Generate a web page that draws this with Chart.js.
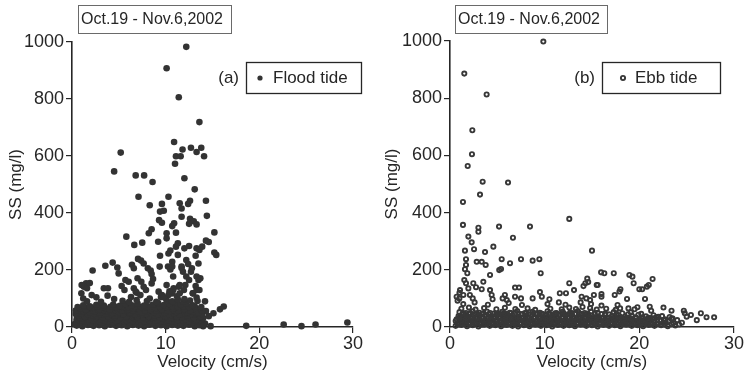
<!DOCTYPE html>
<html>
<head>
<meta charset="utf-8">
<script src="https://cdn.jsdelivr.net/npm/chart.js@4.4.1/dist/chart.umd.min.js"></script>
<style>
  html, body { margin: 0; padding: 0; background: #fff; }
  #wrap { position: relative; width: 752px; height: 380px; }
  canvas { position: absolute; top: 0; }
</style>
</head>
<body>
<div id="wrap">
  <canvas id="floodChart" width="376" height="380" style="left:0"></canvas>
  <canvas id="ebbChart" width="376" height="380" style="left:376px"></canvas>
</div>
<script>
// SS vs velocity, Oct.19 - Nov.6, 2002

const xTicks = [0, 10, 20, 30];
const yTicks = [0, 200, 400, 600, 800, 1000];

// (a) flood tide: [velocity cm/s, SS mg/l]
const floodHigh = [
  [12.2,983],[10.1,908],[11.4,806],[13.6,719],[10.9,649],[5.2,612],[11.8,623],[12.7,629],
  [13.8,629],[13.3,614],[14.1,599],[11.1,599],[11.6,599],[11.0,573],[4.5,546],[6.8,532],
  [7.7,532],[8.6,509],[12.0,522]
];
const floodMid = [
  [7.1,457],[10.3,457],[13.1,483],[8.3,427],[9.6,432],[9.4,405],[9.8,408],[11.5,434],[11.7,416],
  [12.6,443],[12.4,432],[14.3,443],[11.7,387],[12.6,380],[13.0,371],[12.5,362],[13.3,360],
  [9.3,375],[9.6,366],[10.9,364],[10.7,354],[14.4,390],[8.5,343],[8.2,329],[10.1,329],[11.1,331],
  [15.2,332],[5.8,317],[7.5,296],[6.65,288],[9.2,299],[10.1,311],[11.3,294],[11.1,282],[12.5,284],
  [12.0,276],[13.3,276],[14.3,303],[14.6,298],[13.9,282],[13.6,270],[15.4,253],[15.2,261],
  [7.05,239],[7.37,233],[7.65,223],[6.4,218],[6.6,206],[8.1,206],[8.4,198],[8.5,186],[8.65,168],
  [8.5,153],[9.4,250],[10.3,258],[10.5,268],[11.3,253],[10.7,229],[12.2,235],[12.4,221],[13.2,250],
  [13.5,223],[9.36,212],[10.25,212],[10.5,202],[10.7,212],[11.7,207],[11.85,194],[12.7,194],
  [4.34,226],[3.56,215],[4.84,209],[4.98,188],[2.2,198],[7.0,171],[7.4,159],[5.7,165],[6.05,159],
  [1.5,153],[1.28,141],[1.6,136],[3.4,136],[3.84,136],[5.3,144],[5.6,130],[7.9,130],[7.65,141],
  [6.6,136],[6.8,124],[9.25,124],[9.6,112],[10.85,136],[11.4,141],[10.7,118],[12.1,147],[11.95,130],
  [13.5,165],[13.2,144],[13.6,130],[12.5,165],[2.1,112],[1.0,118],[1.03,147],[1.9,154],
  [10.1,147],[10.8,177],[11.7,212],[12.2,177],[12.8,206],[13.3,177],[13.7,171],[13.3,130],
  [12.9,118],[10.8,130],[10.3,112],[11.5,147],[9.5,105]
];
const floodBlob = [
  [0.5,5],[1.1,3],[1.7,7],[2.3,4],[2.9,6],[3.5,3],[4.1,8],[4.7,4],[5.3,6],[5.9,3],[6.5,7],[7.1,5],
  [7.7,3],[8.3,8],[8.9,4],[9.5,6],[10.1,3],[10.7,7],[11.3,5],[11.9,4],[12.5,8],[13.1,3],[13.6,6],
  [0.3,10],[0.9,9],[1.4,11],[2.0,8],[2.6,12],[3.2,9],[3.8,11],[4.4,10],[5.0,8],[5.6,12],[6.2,9],
  [6.8,11],[7.4,10],[8.0,8],[8.6,12],[9.2,10],[9.8,9],[10.4,11],[11.0,10],[11.6,8],[12.2,12],
  [12.8,10],[13.4,9],[14.0,11],
  [0.8,16],[1.4,19],[2.0,14],[2.6,18],[3.2,15],[3.8,20],[4.4,16],[5.0,13],[5.6,19],[6.2,15],[6.8,18],
  [7.4,14],[8.0,20],[8.6,16],[9.2,13],[9.8,19],[10.4,15],[11.0,18],[11.6,14],[12.2,20],[12.8,16],
  [13.4,19],[14.2,12],
  [0.5,22],[1.1,24],[1.7,21],[2.3,23],[2.9,20],[3.5,24],[4.1,22],[4.7,21],[5.3,24],[5.9,22],[6.5,20],
  [7.1,23],[7.7,21],[8.3,24],[8.9,22],[9.5,20],[10.1,23],[10.7,21],[11.3,24],[11.9,22],[12.5,20],
  [13.1,23],[13.8,22],
  [0.5,28],[1.1,31],[1.8,26],[2.4,30],[3.0,27],[3.6,32],[4.2,28],[4.9,25],[5.5,30],[6.1,27],[6.7,31],
  [7.3,26],[7.9,29],[8.5,32],[9.1,27],[9.7,30],[10.3,25],[10.9,29],[11.5,33],[12.1,27],[12.7,30],
  [13.3,26],[14.0,31],
  [0.8,34],[1.4,35],[2.0,33],[2.7,35],[3.3,34],[4.0,33],[4.6,35],[5.2,34],[5.8,33],[6.4,35],[7.0,34],
  [7.6,33],[8.2,35],[8.8,34],[9.4,33],[10.0,35],[10.6,34],[11.2,33],[11.8,35],[12.4,34],[13.0,33],
  [13.6,35],
  [0.7,40],[1.4,37],[2.1,42],[2.7,39],[3.3,43],[3.9,38],[4.6,41],[5.2,44],[5.8,37],[6.4,42],[7.0,39],
  [7.6,43],[8.2,38],[8.8,41],[9.4,45],[10.0,39],[10.6,42],[11.2,37],[11.8,44],[12.4,40],[13.0,43],
  [13.7,38],
  [0.4,46],[1.0,47],[1.7,45],[2.4,47],[3.0,46],[3.6,48],[4.2,45],[4.9,47],[5.5,46],[6.1,48],[6.7,45],
  [7.3,47],[7.9,46],[8.5,48],[9.1,45],[9.7,47],[10.3,46],[10.9,48],[11.5,45],[12.1,47],[12.7,46],
  [13.3,48],[13.9,45],
  [0.6,52],[1.2,55],[1.9,50],[2.5,54],[3.1,51],[3.7,56],[4.3,49],[5.0,53],[5.6,57],[6.2,50],[6.9,54],
  [7.5,51],[8.1,55],[8.7,52],[9.3,58],[9.9,50],[10.5,55],[11.1,53],[11.7,57],[12.3,51],[12.9,54],
  [13.5,50],[14.3,56],
  [0.4,58],[1.5,60],[2.2,57],[2.8,59],[3.4,60],[4.0,58],[4.6,60],[5.3,58],[5.9,60],[6.5,58],[7.2,60],
  [7.8,58],[8.4,60],[9.0,58],[9.6,60],[10.2,58],[10.8,60],[11.4,58],[12.0,60],[12.6,58],[13.3,60],
  [13.9,58],
  [0.9,64],[1.5,61],[2.2,66],[2.9,63],[3.5,67],[4.0,62],[4.8,65],[5.4,68],[6.0,62],[6.6,66],[7.2,63],
  [7.9,69],[8.4,64],[9.0,67],[9.6,62],[10.2,70],[10.8,65],[11.4,68],[12.0,63],[12.6,71],[13.2,66],
  [0.6,70],[1.3,71],[2.0,69],[2.7,72],[3.3,70],[4.1,71],[4.7,70],[5.3,72],[6.0,70],[6.7,72],[7.4,70],
  [8.1,72],[8.8,70],[9.4,72],[10.0,70],[10.7,73],[11.3,71],[11.9,73],[12.5,70],[13.1,72],[13.8,70],
  [1.2,76],[1.9,73],[2.6,78],[3.4,75],[4.4,79],[5.1,74],[5.7,80],[6.4,76],[7.0,82],[7.7,75],[8.6,78],
  [9.2,84],[9.8,77],[10.4,81],[11.0,86],[11.6,79],[12.2,83],[12.9,76],
  [1.6,90],[3.1,88],[5.4,92],[6.1,88],[6.9,95],[8.0,91],[9.0,88],[10.1,94],[10.7,90],[11.3,97],
  [11.9,89],[12.6,93],[13.4,91],
  [1.2,100],[2.6,104],[3.8,110],[4.5,98],[6.3,105],[6.9,120],[7.3,112],[8.3,100],[9.8,104],
  [10.4,125],[11.2,108],[11.5,118],[12.0,98],[12.9,118],[13.3,103],[14.2,90]
];
const floodTail = [
  [14.0,3],[14.8,3],[14.6,38],[15.1,48],[15.8,62],[16.2,72],
  [18.6,4],[22.6,9],[24.5,3],[26.0,9],[29.4,16]
];

// (b) ebb tide: [velocity cm/s, SS mg/l]
const ebbHigh = [
  [9.86,998],[1.51,886],[3.87,813],[2.36,688],[2.32,604],[1.87,563],[3.45,508],[6.13,505],
  [3.17,463],[1.37,437]
];
const ebbMid = [
  [1.37,357],[3.0,347],[3.0,333],[5.18,351],[8.45,351],[12.6,378],[1.94,316],[2.29,296],[6.65,312],
  [1.58,267],[2.54,272],[3.7,262],[4.58,281],[15.0,267],
  [1.69,237],[1.69,217],[1.58,202],[1.83,188],[2.82,228],[3.35,228],[3.77,217],[5.46,237],[7.5,237],
  [8.73,232],[9.44,237],[6.34,223],[5.2,199],[5.39,203],[4.23,182],[9.58,188],
  [1.51,164],[1.69,153],[1.94,135],[2.46,153],[2.75,139],[3.52,158],[1.06,129],[1.41,112],[0.7,106],
  [0.99,100],[2.1,112],[2.4,100],[3.35,132],[4.23,129],[4.4,112],[4.5,97],[6.87,138],[7.29,138],
  [9.5,122],[9.7,106],[10.5,97],[6.87,106],[7.5,100],[5.8,112],[5.56,100],[6.0,94],[8.73,100],
  [11.6,118],[12.25,118],[12.6,153],[13.1,129],[11.5,86],[14.1,143],[14.3,153],[14.5,169],[14.6,157],
  [15.5,147],[13.9,106],[14.4,100],[14.8,94],[15.2,112],
  [15.96,191],[16.3,188],[17.3,188],[15.6,147],[18.95,182],[19.27,176],[19.4,153],[21.4,168],
  [21.0,147],[20.8,141],[20.0,132],[20.3,132],[18.0,132],[17.9,124],[16.0,115],[16.0,106],[17.4,112],
  [18.7,98],[20.6,98]
];
const ebbBlob = [
  [0.6,4],[1.2,7],[1.8,3],[2.4,6],[3.0,2],[3.6,8],[4.2,4],[4.8,6],[5.4,3],[6.0,7],[6.6,4],[7.2,2],
  [7.8,6],[8.4,3],[9.0,8],[9.6,4],[10.2,6],[10.8,2],[11.4,7],[12.0,4],[12.6,6],[13.2,3],[13.8,8],
  [14.4,4],[15.0,6],[15.6,2],[16.2,7],[16.8,4],[17.4,6],[18.0,3],[18.6,8],[19.2,4],[19.8,6],[20.4,3],
  [21.0,7],[21.6,4],[22.3,6],[23.0,3],[23.8,5],
  [0.9,9],[1.5,10],[2.1,9],[2.7,11],[3.3,8],[3.9,10],[4.5,9],[5.1,11],[5.7,8],[6.3,10],[6.9,9],
  [7.5,11],[8.1,8],[8.7,10],[9.3,9],[9.9,11],[10.5,8],[11.1,10],[11.7,9],[12.3,11],[12.9,8],[13.5,10],
  [14.1,9],[14.7,11],[15.3,8],[15.9,10],[16.5,9],[17.1,11],[17.7,8],[18.3,10],[18.9,9],[19.5,11],
  [20.1,8],[20.7,10],[21.3,9],[22.0,11],[22.7,8],[23.4,10],[24.2,9],
  [0.75,12],[1.35,12],[1.95,11],[2.55,13],[3.15,12],[3.75,11],[4.35,13],[4.95,12],[5.55,11],[6.15,13],
  [6.75,12],[7.35,11],[7.95,13],[8.55,12],[9.15,11],[9.75,13],[10.35,12],[10.95,11],[11.55,13],
  [12.15,12],[12.75,11],[13.35,13],[13.95,12],[14.55,11],[15.15,13],[15.75,12],[16.35,11],[16.95,13],
  [17.55,12],[18.15,11],[18.75,13],[19.35,12],[19.95,11],[20.55,13],[21.15,12],[21.8,11],[22.5,13],
  [0.9,15],[1.5,18],[2.1,13],[2.7,17],[3.3,14],[3.9,19],[4.5,15],[5.1,12],[5.7,18],[6.3,14],[6.9,17],
  [7.5,13],[8.1,19],[8.7,15],[9.3,12],[9.9,18],[10.5,14],[11.1,17],[11.7,13],[12.3,19],[12.9,15],
  [13.5,12],[14.1,18],[14.7,14],[15.3,17],[15.9,13],[16.5,19],[17.1,15],[17.7,12],[18.3,18],[18.9,14],
  [19.5,17],[20.1,13],[20.7,19],[21.3,15],[22.0,12],[22.8,16],[23.6,13],[24.5,15],
  [0.6,21],[1.2,22],[1.8,20],[2.4,22],[3.0,21],[3.6,20],[4.2,22],[4.8,21],[5.4,20],[6.0,22],[6.6,21],
  [7.2,20],[7.8,22],[8.4,21],[9.0,20],[9.6,22],[10.2,21],[10.8,20],[11.4,22],[12.0,21],[12.6,20],
  [13.2,22],[13.8,21],[14.4,20],[15.0,22],[15.6,21],[16.2,20],[16.8,22],[17.4,21],[18.0,20],[18.6,22],
  [19.2,21],[19.8,20],[20.4,22],[21.0,21],[21.6,20],[22.3,22],[23.1,20],
  [0.7,27],[1.3,24],[1.9,29],[2.5,26],[3.1,31],[3.7,25],[4.3,28],[5.0,24],[5.6,30],[6.2,26],[6.8,29],
  [7.4,25],[8.0,31],[8.6,27],[9.2,24],[9.8,29],[10.4,26],[11.0,31],[11.6,25],[12.2,28],[12.8,24],
  [13.4,30],[14.0,26],[14.6,29],[15.2,25],[15.8,31],[16.4,27],[17.0,24],[17.6,29],[18.2,26],[18.8,30],
  [19.4,24],[20.0,28],[20.6,25],[21.2,30],[21.9,26],[22.6,24],[23.4,29],
  [1.05,30],[1.65,31],[2.25,29],[2.85,30],[3.45,31],[4.05,29],[4.65,30],[5.25,31],[5.85,29],[6.45,30],
  [7.05,31],[7.65,29],[8.25,30],[8.85,31],[9.45,29],[10.05,30],[10.65,31],[11.25,29],[11.85,30],
  [12.45,31],[13.05,29],[13.65,30],[14.25,31],[14.85,29],[15.45,30],[16.05,31],[16.65,29],[17.25,30],
  [17.85,31],[18.45,29],[19.05,30],[19.65,31],[20.25,29],[20.9,30],
  [1.0,33],[1.6,34],[2.2,32],[2.8,34],[3.4,33],[4.0,32],[4.6,34],[5.3,33],[5.9,32],[6.5,34],[7.1,33],
  [7.7,32],[8.3,34],[8.9,33],[9.5,32],[10.1,34],[10.7,33],[11.3,32],[11.9,34],[12.5,33],[13.1,32],
  [13.7,34],[14.3,33],[14.9,32],[15.5,34],[16.1,33],[16.7,32],[17.4,34],[18.0,33],[18.7,32],[19.6,34],
  [20.3,33],[21.0,32],[21.8,34],
  [0.9,38],[1.6,41],[2.3,36],[3.0,42],[3.7,39],[4.4,37],[5.2,43],[5.9,38],[6.6,41],[7.3,36],[8.0,40],
  [8.7,43],[9.4,37],[10.1,41],[10.8,38],[11.5,44],[12.2,39],[12.9,42],[13.6,37],[14.3,43],[15.0,40],
  [15.7,36],[16.4,42],[17.1,38],[17.8,41],[18.5,36],[19.2,40],[19.9,43],[20.7,37],[21.5,41],[22.4,38],
  [23.2,35],
  [1.3,45],[2.0,46],[2.7,44],[3.4,46],[4.1,45],[4.9,44],[5.6,46],[6.0,44],[6.8,46],[7.6,45],[8.3,44],
  [9.1,46],[9.8,45],[10.6,44],[11.3,46],[12.0,45],[12.6,44],[13.2,46],[13.9,45],[14.6,44],[15.3,46],
  [16.0,45],[16.8,44],[17.6,46],[18.8,44],
  [1.45,48],[2.15,49],[2.85,47],[3.55,48],[4.25,49],[5.0,47],[5.75,48],[6.45,49],[7.25,47],[8.05,48],
  [8.85,49],[9.65,47],[10.45,48],[11.25,49],[12.05,47],[12.85,48],[13.65,49],[14.45,47],
  [1.0,52],[1.7,49],[2.4,55],[3.1,50],[3.9,54],[4.7,48],[5.5,53],[6.3,50],[7.1,56],[7.9,49],[8.7,53],
  [9.5,50],[10.3,55],[11.1,48],[11.9,54],[12.7,51],[13.5,56],[14.2,49],[14.9,54],[15.6,50],[16.4,47],
  [17.3,52],[18.2,48],[19.1,51],[20.2,46],
  [1.2,64],[2.0,68],[2.7,61],[3.6,66],[4.9,62],[5.8,67],[6.9,63],[8.2,65],[9.0,60],[10.6,64],[11.8,62],
  [12.6,68],[13.3,63],[14.0,70],[14.8,66],[15.5,61],[16.5,64],[17.5,60],[19.5,62],
  [1.4,80],[2.6,86],[4.0,78],[6.2,84],[7.6,77],[10.3,80],[12.2,78],[13.8,86],[14.9,80],[16.0,75],
  [0.8,92],[1.0,120]
];
const ebbTail = [
  [17.7,77],[17.97,65],[18.85,65],[19.8,69],[21.1,71],[21.25,57],[22.55,68],[23.4,57],[24.7,57],
  [24.8,48],[25.0,36],[25.45,42],[26.07,24],[26.5,48],[27.1,34],[27.9,34],[24.0,24],[23.5,30],
  [22.7,27],[22.0,36],[21.5,30]
];

const ink = '#262626';
const fontFamily = '"Liberation Sans", Arial, Helvetica, sans-serif';
Chart.defaults.font.family = fontFamily;
Chart.defaults.color = ink;

function toXY(rows) {
  return rows.map(r => ({ x: r[0], y: r[1] }));
}

// draws the date box, the (a)/(b) tag and the boxed legend
const panelDecor = {
  id: 'panelDecor',
  afterDraw(chart, args, o) {
    const ctx = chart.ctx;
    ctx.save();
    ctx.textBaseline = 'middle';
    ctx.fillStyle = ink;

    // date box
    ctx.strokeStyle = '#6a6a6a';
    ctx.lineWidth = 1;
    ctx.strokeRect(o.dateBox[0] + 0.5, o.dateBox[1] + 0.5, o.dateBox[2], o.dateBox[3]);
    ctx.font = '16px ' + fontFamily;
    ctx.textAlign = 'left';
    ctx.fillText(o.dateText, o.dateBox[0] + 3, o.dateBox[1] + o.dateBox[3] / 2 + 1);

    // legend box
    const lb = o.legendBox;
    ctx.strokeStyle = ink;
    ctx.lineWidth = 1.3;
    ctx.strokeRect(lb[0] + 0.5, lb[1] + 0.5, lb[2], lb[3]);
    const cy = lb[1] + lb[3] / 2 + 0.5;
    ctx.font = '17px ' + fontFamily;
    ctx.textAlign = 'right';
    ctx.fillText(o.tag, lb[0] - 7, cy);
    ctx.textAlign = 'left';
    ctx.fillText(o.label, o.textX, cy);

    // legend marker, same look as the dataset
    const ds = chart.data.datasets[0];
    ctx.beginPath();
    ctx.arc(o.markerX, cy, o.markerR, 0, Math.PI * 2);
    ctx.fillStyle = o.markerFill;
    ctx.fill();
    if (ds.pointBorderWidth > 0) {
      ctx.lineWidth = ds.pointBorderWidth;
      ctx.strokeStyle = ds.pointBorderColor;
      ctx.stroke();
    }
    ctx.restore();
  }
};

function makePanel(canvasId, points, pointStyle, yWidth, pad, decor) {
  return new Chart(document.getElementById(canvasId), {
    type: 'scatter',
    data: {
      datasets: [Object.assign({
        label: decor.label,
        data: toXY(points),
        clip: false
      }, pointStyle)]
    },
    options: {
      responsive: false,
      animation: false,
      events: [],
      layout: { padding: pad },
      plugins: {
        legend: { display: false },
        tooltip: { enabled: false },
        panelDecor: decor
      },
      scales: {
        x: {
          type: 'linear',
          min: 0,
          max: 30,
          afterBuildTicks: s => { s.ticks = xTicks.map(v => ({ value: v })); },
          ticks: { color: ink, font: { size: 18 }, padding: 0, maxRotation: 0, callback: v => String(v) },
          grid: { display: true, drawOnChartArea: false, drawTicks: true, tickLength: 6, color: ink, lineWidth: 1.2 },
          border: { display: true, color: ink, width: 1.6 },
          title: { display: true, text: 'Velocity (cm/s)', color: ink, font: { size: 17 }, padding: { top: 0, bottom: 7 } },
          afterFit: s => { s.height = 53; }
        },
        y: {
          type: 'linear',
          min: 0,
          max: 1000,
          afterBuildTicks: s => { s.ticks = yTicks.map(v => ({ value: v })); },
          ticks: { color: ink, font: { size: 18 }, padding: 2, callback: v => String(v) },
          grid: { display: true, drawOnChartArea: false, drawTicks: true, tickLength: 6, color: ink, lineWidth: 1.2 },
          border: { display: true, color: ink, width: 1.6 },
          title: { display: true, text: 'SS (mg/l)', color: ink, font: { size: 17 }, padding: { top: 6, bottom: 0 } },
          afterFit: s => { s.width = yWidth; }
        }
      }
    },
    plugins: [panelDecor]
  });
}

makePanel('floodChart',
  [...floodHigh, ...floodMid, ...floodBlob, ...floodTail],
  { pointRadius: 3.3, pointBackgroundColor: '#333333', pointBorderColor: '#333333', pointBorderWidth: 0 },
  72,
  { top: 42, right: 23, bottom: 0, left: 0 },
  { dateText: 'Oct.19 - Nov.6,2002', dateBox: [78, 5, 153, 28],
    tag: '(a)', label: 'Flood tide', legendBox: [246, 62, 115, 31],
    markerX: 260, markerR: 2.6, markerFill: '#333333', textX: 273 }
);

// thick rings with an open centre: isolated rings read light, overlapping ones darken
makePanel('ebbChart',
  [...ebbHigh, ...ebbMid, ...ebbBlob, ...ebbTail],
  { pointRadius: 2.1, pointBackgroundColor: 'rgba(0,0,0,0)', pointBorderColor: '#383838', pointBorderWidth: 1.9 },
  74,
  { top: 41, right: 18, bottom: 0, left: 0 },
  { dateText: 'Oct.19 - Nov.6,2002', dateBox: [79, 5, 152, 28],
    tag: '(b)', label: 'Ebb tide', legendBox: [226, 62, 118, 31],
    markerX: 247, markerR: 2.1, markerFill: 'rgba(0,0,0,0)', textX: 259 }
);
</script>
</body>
</html>
